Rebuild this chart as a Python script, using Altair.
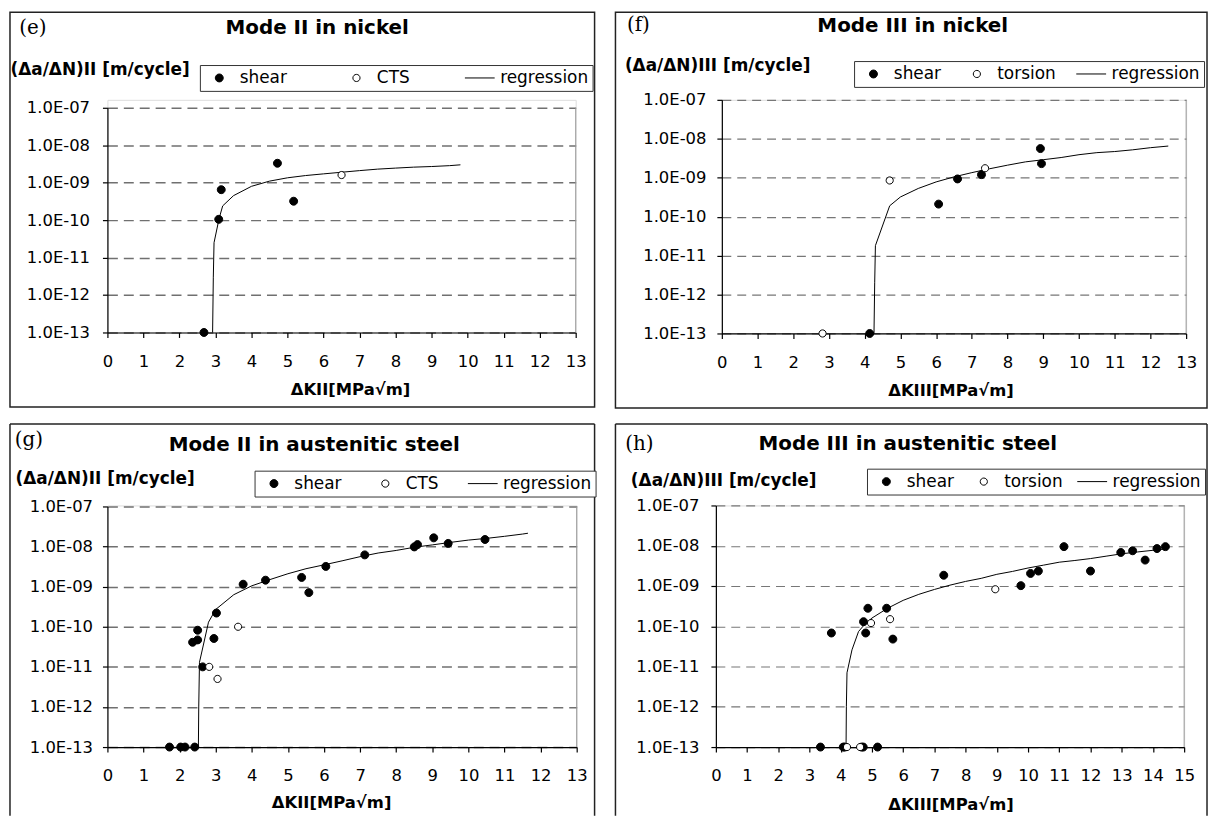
import altair as alt
import pandas as pd

FONT = "DejaVu Sans"
SERIF = "DejaVu Serif"

# ---------------- data ----------------
# (e) Mode II in nickel
e_shear_x = [2.68, 3.09, 3.16, 4.72, 5.17]
e_shear_y = [1.0e-13, 1.05e-10, 6.5e-10, 3.3e-9, 3.2e-10]
e_open_x = [6.5]
e_open_y = [1.6e-9]
e_reg_x = [2.92, 2.94, 2.96, 3.1, 3.2, 3.5, 4.0, 4.5, 5.0, 5.5, 6.0, 6.5, 7.0, 7.5, 8.0, 8.5, 9.0, 9.5, 9.8]
e_reg_y = [1e-13, 3e-12, 2.5e-11, 1.1e-10, 2.4e-10, 4.5e-10, 8e-10, 1.1e-9, 1.35e-9, 1.55e-9,
           1.72e-9, 1.9e-9, 2.1e-9, 2.3e-9, 2.45e-9, 2.6e-9, 2.7e-9, 2.85e-9, 3.0e-9]

# (f) Mode III in nickel
f_shear_x = [4.14, 6.07, 6.6, 7.27, 8.92, 8.95]
f_shear_y = [1.0e-13, 2.1e-10, 9.3e-10, 1.2e-9, 5.6e-9, 2.3e-9]
f_open_x = [2.82, 4.7, 7.37]
f_open_y = [1.0e-13, 8.5e-10, 1.75e-9]
f_reg_x = [4.26, 4.28, 4.30, 4.7, 5.0, 5.5, 6.0, 6.5, 7.0, 7.5, 8.0, 8.5, 9.0, 9.5, 10.0, 10.5, 11.0, 11.5, 12.0, 12.5]
f_reg_y = [1e-13, 2e-12, 1.8e-11, 1.9e-10, 3.2e-10, 5.3e-10, 7.8e-10, 1.05e-9, 1.35e-9, 1.7e-9,
           2.1e-9, 2.55e-9, 2.9e-9, 3.3e-9, 3.9e-9, 4.4e-9, 4.7e-9, 5.2e-9, 5.9e-9, 6.5e-9]

# (g) Mode II in austenitic steel
g_shear_x = [1.72, 2.03, 2.15, 2.42, 2.36, 2.5, 2.5, 2.64, 2.95, 3.02, 3.76, 4.38, 5.38, 5.58,
             6.05, 7.13, 8.5, 8.59, 9.04, 9.44, 10.46]
g_shear_y = [1e-13, 1e-13, 1e-13, 1e-13, 4.1e-11, 4.7e-11, 8.2e-11, 1.0e-11, 5.1e-11, 2.2e-10,
             1.15e-9, 1.45e-9, 1.7e-9, 7.1e-10, 3.2e-9, 6.2e-9, 9.8e-9, 1.12e-8, 1.65e-8, 1.2e-8, 1.5e-8]
g_open_x = [2.82, 3.05, 3.62]
g_open_y = [1.0e-11, 5.0e-12, 1.0e-10]
g_reg_x = [2.52, 2.53, 2.55, 2.8, 3.0, 3.5, 4.0, 4.5, 5.0, 5.5, 6.0, 6.5, 7.0, 7.5, 8.0, 8.5, 9.0,
           9.5, 10.0, 10.5, 11.0, 11.5, 11.65]
g_reg_y = [1e-13, 1e-12, 1.3e-11, 1.3e-10, 2.7e-10, 6.3e-10, 1.05e-9, 1.5e-9, 2.1e-9, 2.8e-9, 3.5e-9,
           4.4e-9, 5.6e-9, 6.9e-9, 8.0e-9, 9.6e-9, 1.1e-8, 1.27e-8, 1.45e-8, 1.6e-8, 1.8e-8, 2.05e-8, 2.15e-8]

# (h) Mode III in austenitic steel
h_shear_x = [3.35, 4.08, 4.13, 4.67, 4.72, 5.18, 3.7, 4.73, 4.8, 4.87, 5.47, 5.67, 7.3, 9.77,
             10.08, 10.33, 11.15, 12.0, 12.97, 13.35, 13.75, 14.13, 14.4]
h_shear_y = [1e-13, 1e-13, 1e-13, 1e-13, 1e-13, 1e-13, 6.8e-11, 1.3e-10, 6.8e-11, 2.8e-10, 2.8e-10,
             4.8e-11, 1.85e-9, 1.02e-9, 2.05e-9, 2.35e-9, 9.5e-9, 2.35e-9, 6.8e-9, 7.5e-9, 4.4e-9, 8.5e-9, 9.5e-9]
h_open_x = [4.2, 4.62, 4.97, 5.58, 8.95]
h_open_y = [1e-13, 1e-13, 1.2e-10, 1.5e-10, 8.3e-10]
h_reg_x = [4.17, 4.18, 4.2, 4.36, 4.57, 4.76, 5.0, 5.5, 6.0, 6.5, 7.0, 7.5, 8.0, 8.5, 9.0, 9.5, 10.0,
           10.5, 11.0, 11.5, 12.0, 12.5, 13.0, 13.5, 14.0, 14.45]
h_reg_y = [1e-13, 1e-12, 7e-12, 2.6e-11, 7.4e-11, 1.1e-10, 1.6e-10, 2.8e-10, 4.4e-10, 6.2e-10, 8.2e-10,
           1.05e-9, 1.3e-9, 1.55e-9, 1.95e-9, 2.3e-9, 2.8e-9, 3.3e-9, 3.9e-9, 4.3e-9, 4.8e-9, 5.5e-9,
           6.3e-9, 7.0e-9, 7.7e-9, 8.4e-9]

Y_TICKS = [1e-13, 1e-12, 1e-11, 1e-10, 1e-9, 1e-8, 1e-7]


def circle_path(r):
    return f"M{-r},0A{r},{r},0,1,1,{r},0A{r},{r},0,1,1,{-r},0Z"


SHAPES = [circle_path(4.0 / 15), circle_path(3.6 / 15), "M-1,0H1"]
FILLS = ["black", "white", "transparent"]
STROKES = ["black", "black", "black"]

dummy = pd.DataFrame({"d": [0]})


def text_layer(txt, x, y, font, size, weight="normal", align="center"):
    return alt.Chart(pd.DataFrame({"t": [txt]})).mark_text(
        font=font, fontSize=size, fontWeight=weight, align=align, baseline="middle", color="black"
    ).encode(x=alt.value(x), y=alt.value(y), text="t:N")


def rule(x1, y1, x2, y2, color, width):
    enc = dict(x=alt.value(x1), y=alt.value(y1))
    if x1 == x2:
        enc["y2"] = alt.value(y2)
    else:
        enc["x2"] = alt.value(x2)
    return alt.Chart(dummy).mark_rule(color=color, strokeWidth=width).encode(**enc)


def panel(c):
    W, H, top = c["W"], c["H"], c["top"]
    names = c["names"]
    pts = pd.DataFrame({
        "K": c["sx"] + c["ox"],
        "rate": c["sy"] + c["oy"],
        "series": [names[0]] * len(c["sx"]) + [names[1]] * len(c["ox"]),
    })
    reg = pd.DataFrame({"K": c["rx"], "rate": c["ry"]})

    xscale = alt.Scale(domain=[0, c["xmax"]], nice=False, zero=False)
    yscale = alt.Scale(type="log", domain=[1e-13, 1e-7], nice=False, range=[H, top])
    xaxis = alt.Axis(
        values=list(range(0, c["xmax"] + 1)), grid=False, tickSize=5, tickWidth=1.2,
        tickColor="black", domainColor="black", domainWidth=1.2,
        labelFont=FONT, labelFontSize=16.5, labelColor="black", labelPadding=16,
        labelFlush=False, labelOverlap=False,
        title=c["xtitle"], titleFont=FONT, titleFontSize=16.5, titleFontWeight="bold",
        titleColor="black", titleX=c["xtx"], titleY=c["xty"], titleAlign="center",
        titleBaseline="middle", titleAngle=0,
    )
    yaxis = alt.Axis(
        values=Y_TICKS, grid=True, gridDash=c["dash"], gridColor=c["gridc"], gridWidth=c["gridw"],
        tickSize=5, tickWidth=1.2, tickColor="black", domainColor="black", domainWidth=1.2,
        labelFont=FONT, labelFontSize=16.5, labelColor="black", labelPadding=c["ylp"],
        labelOverlap=False, labelFlush=False,
        labelExpr="'1.0E-' + (round(-log(datum.value)/LN10) < 10 ? '0' : '') + round(-log(datum.value)/LN10)",
        title=c["ytitle"], titleFont=FONT, titleFontSize=17, titleFontWeight="bold", titleColor="black",
        titleAngle=0, titleX=c["ytx"], titleY=c["yty"], titleAlign="left", titleBaseline="middle",
    )
    leg = alt.Legend(
        orient="none", legendX=c["lx"], legendY=c["ly"], direction="horizontal", columns=3,
        title=None, symbolSize=900, clipHeight=18, labelFont=FONT, labelFontSize=17,
        labelColor="black", labelOffset=5, columnPadding=c["cp"], padding=4,
        strokeColor="#333", fillColor="white", symbolStrokeWidth=1,
        labelLimit=300,
    )

    fx1, fy1, fx2, fy2 = c["frame"]
    if c["closed"]:
        frame = alt.Chart(dummy).mark_rect(fillOpacity=0, stroke="#222", strokeWidth=1.5).encode(
            x=alt.value(fx1), x2=alt.value(fx2), y=alt.value(fy1), y2=alt.value(fy2))
        frames = [frame]
    else:
        frames = [
            rule(fx1, fy1, fx2, fy1, "#222", 1.5),
            rule(fx1, fy1, fx1, fy2, "#222", 1.5),
            rule(fx2, fy1, fx2, fy2, "#222", 1.5),
        ]

    line = alt.Chart(reg).mark_line(color="black", strokeWidth=1).encode(
        x=alt.X("K:Q", scale=xscale, axis=xaxis),
        y=alt.Y("rate:Q", scale=yscale, axis=yaxis),
    )
    points = alt.Chart(pts).mark_point(filled=True, size=900, strokeWidth=1, opacity=1).encode(
        x=alt.X("K:Q", scale=xscale, axis=xaxis),
        y=alt.Y("rate:Q", scale=yscale, axis=yaxis),
        shape=alt.Shape("series:N", scale=alt.Scale(domain=names, range=SHAPES), legend=leg),
        fill=alt.Fill("series:N", scale=alt.Scale(domain=names, range=FILLS), legend=leg),
        stroke=alt.Stroke("series:N", scale=alt.Scale(domain=names, range=STROKES), legend=leg),
    )
    right = rule(W, top, W, H, "#999999", 1)

    layers = frames + [
        text_layer(c["label"], c["labx"], c["laby"], SERIF, 20),
        text_layer(c["title"], c["tx"], c["ty"], FONT, 20, "bold"),
        right,
        line,
        points,
    ]
    return alt.layer(*layers).properties(width=W, height=H)


# plot origins (page px): e (108, 99) with data area starting 8px lower; f (722, 99);
# g (108, 505) with data area starting 1px lower; h (716, 505)
e = panel(dict(
    W=471, H=234, top=8, xmax=13, names=["shear", "CTS", "regression"],
    sx=e_shear_x, sy=e_shear_y, ox=e_open_x, oy=e_open_y, rx=e_reg_x, ry=e_reg_y,
    label="(e)", labx=-75, laby=-72, title="Mode II in nickel", tx=211, ty=-72,
    ytitle="(Δa/ΔN)II [m/cycle]", ytx=-98, yty=-30, ylp=13,
    xtitle="ΔKII[MPa√m]", xtx=244, xty=57,
    lx=93, ly=-35, cp=54, frame=(-98, -88, 490, 309), closed=True,
    dash=[10, 6], gridc="#707070", gridw=1.5,
))
f = panel(dict(
    W=467, H=235, top=0, xmax=13, names=["shear", "torsion", "regression"],
    sx=f_shear_x, sy=f_shear_y, ox=f_open_x, oy=f_open_y, rx=f_reg_x, ry=f_reg_y,
    label="(f)", labx=-84, laby=-75, title="Mode III in nickel", tx=192, ty=-74,
    ytitle="(Δa/ΔN)III [m/cycle]", ytx=-98, yty=-35, ylp=11,
    xtitle="ΔKIII[MPa√m]", xtx=230, xty=57,
    lx=133, ly=-39, cp=20, frame=(-107, -88, 488, 310), closed=True,
    dash=[9, 6], gridc="#777777", gridw=1.2,
))
g = panel(dict(
    W=472, H=243, top=1, xmax=13, names=["shear", "CTS", "regression"],
    sx=g_shear_x, sy=g_shear_y, ox=g_open_x, oy=g_open_y, rx=g_reg_x, ry=g_reg_y,
    label="(g)", labx=-79, laby=-66, title="Mode II in austenitic steel", tx=208, ty=-61,
    ytitle="(Δa/ΔN)II [m/cycle]", ytx=-93, yty=-27, ylp=10,
    xtitle="ΔKII[MPa√m]", xtx=225, xty=56,
    lx=148, ly=-35, cp=28, frame=(-98, -82, 490, 312), closed=False,
    dash=[10, 6], gridc="#707070", gridw=1.5,
))
h = panel(dict(
    W=471, H=243, top=0, xmax=15, names=["shear", "torsion", "regression"],
    sx=h_shear_x, sy=h_shear_y, ox=h_open_x, oy=h_open_y, rx=h_reg_x, ry=h_reg_y,
    label="(h)", labx=-77, laby=-62, title="Mode III in austenitic steel", tx=193, ty=-62,
    ytitle="(Δa/ΔN)III [m/cycle]", ytx=-86, yty=-25, ylp=12,
    xtitle="ΔKIII[MPa√m]", xtx=236, xty=58,
    lx=152, ly=-37, cp=14, frame=(-101, -82, 494, 312), closed=False,
    dash=[9, 6], gridc="#777777", gridw=1.2,
))

res = dict(x="independent", y="independent", shape="independent", fill="independent", stroke="independent")
lres = dict(shape="independent", fill="independent", stroke="independent")
top_row = alt.hconcat(e, f, spacing=17).resolve_scale(**res).resolve_legend(**lres)
bot_row = alt.hconcat(g, h, spacing=17).resolve_scale(**res).resolve_legend(**lres)
chart = (
    alt.vconcat(top_row, bot_row, spacing=12)
    .resolve_scale(**res)
    .resolve_legend(**lres)
    .properties(padding=0, background="white")
    .configure_view(strokeWidth=0)
    .configure(font=FONT)
)

chart.save("out.html", embed_options={"renderer": "svg", "actions": False})
